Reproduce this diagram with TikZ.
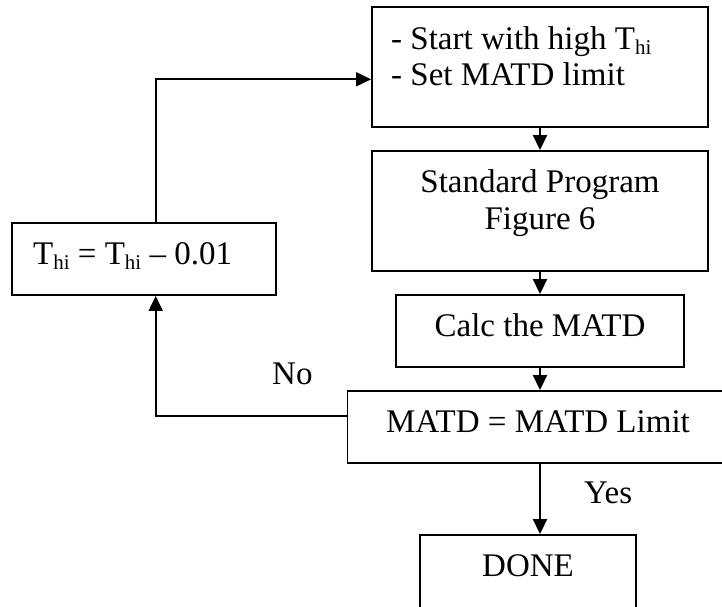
\documentclass[tikz,border=0pt]{standalone}
\usepackage{fontspec}
\setmainfont{Liberation Serif}
\usetikzlibrary{arrows.meta}
\newcommand{\Thi}{T\raisebox{-5pt}{\fontsize{21}{21}\selectfont hi}}
\begin{document}
\begin{tikzpicture}[x=1pt,y=-1pt,
  box/.style={draw, line width=1.9pt, inner sep=0pt, rectangle},
  txt/.style={inner sep=0pt, font=\fontsize{33}{38}\selectfont},
  conn/.style={line width=1.9pt, -{Triangle[length=15pt,width=14pt]}}]
\useasboundingbox (0,0) rectangle (722,606);
\fill[white] (0,0) rectangle (722,606);
\clip (0,0) rectangle (722,606);
% boxes
\node[box, minimum width=336pt, minimum height=120pt] (b1) at (540,67) {};
\node[box, minimum width=336pt, minimum height=120pt] (b2) at (540,211) {};
\node[box, minimum width=288pt, minimum height=72pt] (b3) at (540,331) {};
\node[box, minimum width=385pt, minimum height=72pt] (b4) at (540,427) {};
\node[box, minimum width=216pt, minimum height=90pt] (b5) at (528,580) {};
\node[box, minimum width=264pt, minimum height=72pt] (b6) at (144,259) {};
% texts
\node[txt, anchor=base west] (t1a) at (391,49) {- Start with high \Thi};
\node[txt, anchor=base west] (t1b) at (391,85) {- Set MATD limit};
\node[txt, anchor=base] (t2a) at (540,192) {Standard Program};
\node[txt, anchor=base] (t2b) at (540,229) {Figure 6};
\node[txt, anchor=base] (t3) at (540,336) {Calc the MATD};
\node[txt, anchor=base] (t4) at (538,432) {MATD = MATD Limit};
\node[txt, anchor=base] (t5) at (528,576) {DONE};
\node[txt, anchor=base west] (t6) at (33,264) {\Thi{} = \Thi{} -- 0.01};
\node[txt, anchor=base west] (lno) at (272,384) {No};
\node[txt, anchor=base west] (lyes) at (584,503) {Yes};
% connectors
\coordinate (c1) at (155.7,415.7);
\coordinate (c2) at (155.7,79.3);
\draw[conn] (b1.south) -- (b2.north);
\draw[conn] (b2.south) -- (b3.north);
\draw[conn] (b3.south) -- (b4.north);
\draw[conn] (b4.south) -- (b4.south |- b5.north);
\draw[conn] (c1 -| b4.west) -- (c1) -- (c1 |- b6.south);
\draw[conn] (c2 |- b6.north) -- (c2) -- (c2 -| b1.west);
\end{tikzpicture}
\end{document}
